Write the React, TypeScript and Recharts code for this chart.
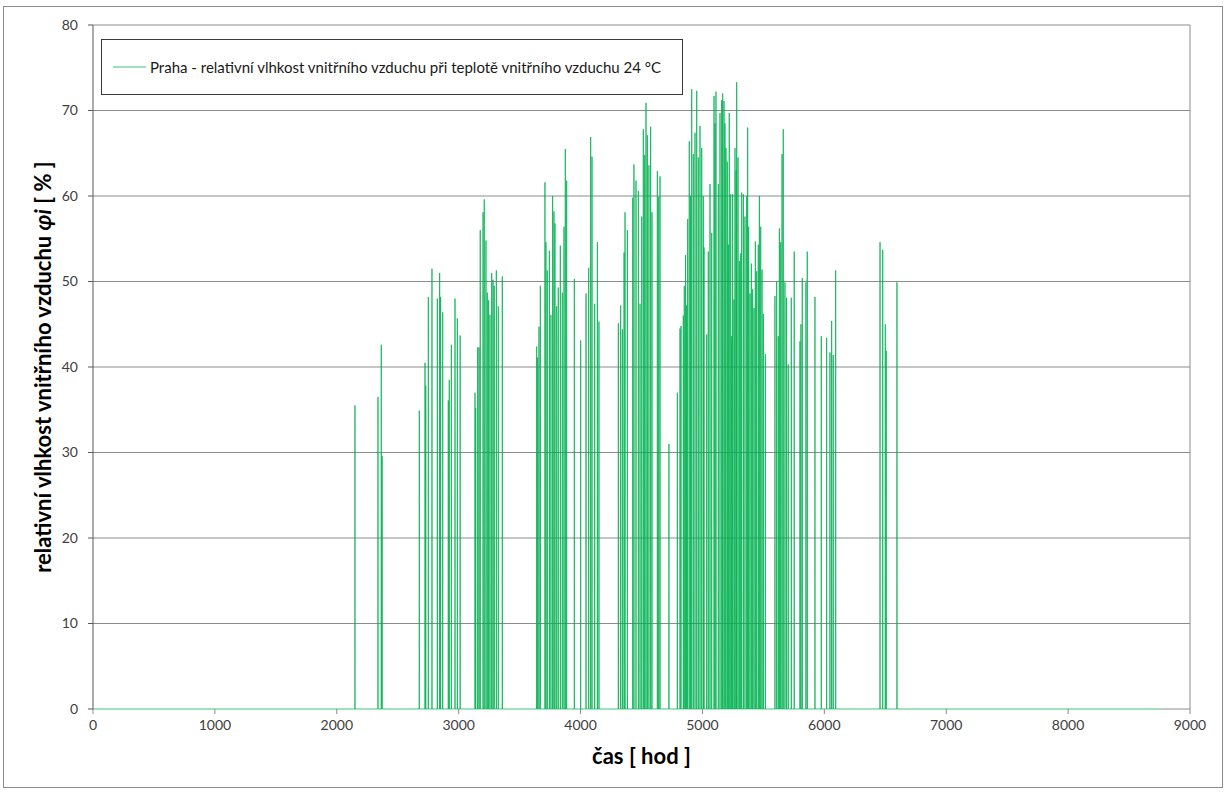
import { LineChart, Line, XAxis, YAxis, CartesianGrid, Legend, ReferenceLine, Label } from 'recharts'

// hodiny v roce, kdy je relativní vlhkost nenulová (špičky), a jejich hodnoty
const spikeHours = [
  2149, 2338, 2365, 2372,
  2677, 2724, 2730, 2751, 2781, 2825, 2844, 2852, 2869, 2915, 2923, 2940, 2970, 2989, 3012,
  3134, 3140, 3156, 3167, 3177, 3200, 3210, 3224, 3235, 3246, 3257, 3271, 3282, 3292, 3309, 3325, 3358,
  3640, 3648, 3659, 3670, 3708, 3716, 3727, 3744, 3757, 3771, 3782, 3790, 3804, 3817, 3834, 3850, 3864, 3875, 3886,
  3949, 4001, 4045, 4067, 4083, 4094, 4116, 4138, 4151,
  4310, 4329, 4343, 4357, 4365, 4384, 4428, 4438, 4455, 4474, 4488, 4502, 4515, 4526, 4537, 4548, 4561, 4575, 4586, 4630, 4641, 4652,
  4725,
  4794, 4816, 4824, 4843, 4851, 4862, 4870, 4879, 4892, 4903, 4912, 4925, 4939, 4953, 4966, 4980, 4994, 5007, 5013, 5035,
  5048, 5062, 5076, 5095, 5103, 5111, 5130, 5144, 5158, 5166, 5177, 5185, 5193, 5204, 5212, 5220, 5232, 5240, 5248, 5259,
  5267, 5276, 5281, 5292, 5303, 5314, 5322, 5336, 5349, 5363, 5371, 5379, 5390, 5401, 5412, 5423, 5434, 5445, 5458, 5467,
  5478, 5489, 5500, 5516,
  5595, 5609, 5622, 5631, 5642, 5653, 5663, 5677, 5690, 5704, 5729, 5753, 5800, 5808, 5819, 5849, 5860, 5923,
  5975, 6019, 6046, 6060, 6073, 6093,
  6457, 6479, 6500, 6508, 6596,
]

const spikeValues = [
  35.5, 36.5, 42.6, 29.6,
  34.9, 40.5, 37.8, 48.2, 51.5, 48.0, 51.0, 48.2, 46.4, 36.1, 38.5, 42.6, 48.0, 45.7, 43.7,
  37.0, 35.2, 42.3, 42.3, 56.0, 58.1, 59.6, 54.8, 48.7, 47.8, 46.1, 51.0, 50.2, 49.5, 51.3, 47.1, 50.6,
  42.4, 41.1, 44.7, 49.5, 61.6, 54.6, 51.3, 53.6, 46.1, 60.0, 58.2, 56.8, 47.1, 49.3, 54.2, 48.7, 56.4, 65.5, 61.8,
  50.3, 43.1, 48.6, 51.6, 66.9, 64.6, 47.4, 54.6, 45.3,
  45.1, 47.2, 44.4, 53.4, 58.1, 56.0, 59.8, 63.7, 61.8, 60.6, 47.4, 57.6, 67.8, 64.8, 70.9, 67.1, 63.6, 68.1, 58.1, 62.9, 59.9, 62.3,
  31.0,
  37.0, 44.5, 44.8, 46.0, 49.5, 53.1, 47.2, 57.3, 66.4, 60.0, 72.5, 64.9, 67.4, 72.3, 64.5, 68.2, 65.6, 60.0, 54.0, 43.8,
  53.5, 61.4, 55.7, 71.7, 68.5, 72.2, 61.4, 69.7, 71.2, 72.0, 71.1, 68.5, 65.6, 64.0, 54.3, 69.7, 60.2, 43.6, 60.2, 47.9,
  65.6, 63.0, 73.3, 64.5, 52.4, 53.3, 60.4, 60.2, 57.6, 60.0, 68.0, 56.4, 48.6, 52.1, 49.1, 46.9, 54.7, 51.2, 54.3, 60.0,
  56.4, 51.4, 46.2, 41.5,
  48.3, 50.0, 43.6, 56.2, 54.6, 64.9, 67.8, 49.9, 48.1, 40.3, 48.1, 53.5, 43.0, 45.0, 50.4, 49.9, 53.5, 48.2,
  43.6, 43.4, 41.7, 45.4, 41.4, 51.3,
  54.6, 53.7, 45.0, 41.9, 49.9,
]

const lastHour = 8760
const xTicks = [0, 1000, 2000, 3000, 4000, 5000, 6000, 7000, 8000, 9000]
const yTicks = [0, 10, 20, 30, 40, 50, 60, 70, 80]
const gridValues = [10, 20, 30, 40, 50, 60, 70, 80]

const seriesName = 'Praha - relativní vlhkost vnitřního vzduchu při teplotě vnitřního vzduchu 24 °C'

// mezi špičkami je hodnota 0
const data: { h: number; phi: number }[] = [{ h: 0, phi: 0 }]
spikeHours.forEach((h, i) => {
  data.push({ h: h - 1, phi: 0 })
  data.push({ h, phi: spikeValues[i] })
  data.push({ h: h + 1, phi: 0 })
})
data.push({ h: lastHour, phi: 0 })

const GREEN = '#00b050'
const FONT = 'Lato, "Open Sans", sans-serif'

function LegendBox() {
  return (
    <div
      style={{
        width: 580,
        height: 54,
        border: '1px solid #3a3a3a',
        background: '#fff',
        display: 'flex',
        alignItems: 'center',
        fontFamily: FONT,
        fontSize: 15,
        color: '#1a1a1a',
        whiteSpace: 'nowrap',
      }}
    >
      <svg width={48} height={10}>
        <line x1={11} y1={5} x2={44} y2={5} stroke={GREEN} strokeOpacity={0.5} strokeWidth={1.5} />
      </svg>
      <span>{seriesName}</span>
    </div>
  )
}

function YTitle(props: any) {
  const vb = props.viewBox
  const cx = 42
  const cy = vb.y + vb.height / 2
  return (
    <text
      x={cx}
      y={cy}
      transform={`rotate(-90, ${cx}, ${cy})`}
      textAnchor="middle"
      dominantBaseline="central"
      fontFamily={FONT}
      fontWeight="bold"
      fontSize={22}
      fill="#000"
    >
      relativní vlhkost vnitřního vzduchu <tspan fontStyle="italic">φi</tspan> [ % ]
    </text>
  )
}

export default function App() {
  return (
    <div style={{ position: 'absolute', left: 0, top: 0, width: 1228, height: 792, background: '#fff' }}>
      <div
        style={{
          position: 'absolute',
          left: 3,
          top: 6,
          width: 1218,
          height: 780,
          border: '1px solid #8c8c8c',
        }}
      />
      <LineChart
        width={1228}
        height={792}
        data={data}
        margin={{ top: 25, right: 38, left: 33, bottom: 43 }}
        style={{ fontFamily: FONT }}
      >
        <CartesianGrid vertical={false} horizontalValues={gridValues} stroke="#8c8c8c" strokeOpacity={1} />
        <XAxis
          dataKey="h"
          type="number"
          domain={[0, 9000]}
          ticks={xTicks}
          interval={0}
          height={40}
          stroke="#8c8c8c"
          axisLine={false}
          tickSize={5}
          tickMargin={6}
          tick={{ fill: '#404040', fontSize: 14, fontFamily: FONT }}
        >
          <Label
            value="čas [ hod ]"
            position="bottom"
            offset={-1}
            style={{ fontFamily: FONT, fontWeight: 'bold', fontSize: 22, fill: '#000' }}
          />
        </XAxis>
        <YAxis
          type="number"
          domain={[0, 80]}
          ticks={yTicks}
          interval={0}
          width={60}
          stroke="#595959"
          tickSize={5}
          tickMargin={10}
          tick={{ fill: '#404040', fontSize: 14, fontFamily: FONT }}
        >
          <Label content={<YTitle />} />
        </YAxis>
        <ReferenceLine x={9000} stroke="#8c8c8c" />
        <ReferenceLine segment={[{ x: lastHour, y: 0 }, { x: 9000, y: 0 }]} stroke="#8c8c8c" />
        <Legend
          layout="horizontal"
          verticalAlign="middle"
          align="center"
          content={<LegendBox />}
          wrapperStyle={{ left: 101, top: 39, width: 582, height: 56 }}
        />
        <Line
          type="linear"
          dataKey="phi"
          name={seriesName}
          stroke={GREEN}
          strokeWidth={1}
          strokeOpacity={0.75}
          dot={false}
          activeDot={false}
          isAnimationActive={false}
        />
      </LineChart>
    </div>
  )
}
